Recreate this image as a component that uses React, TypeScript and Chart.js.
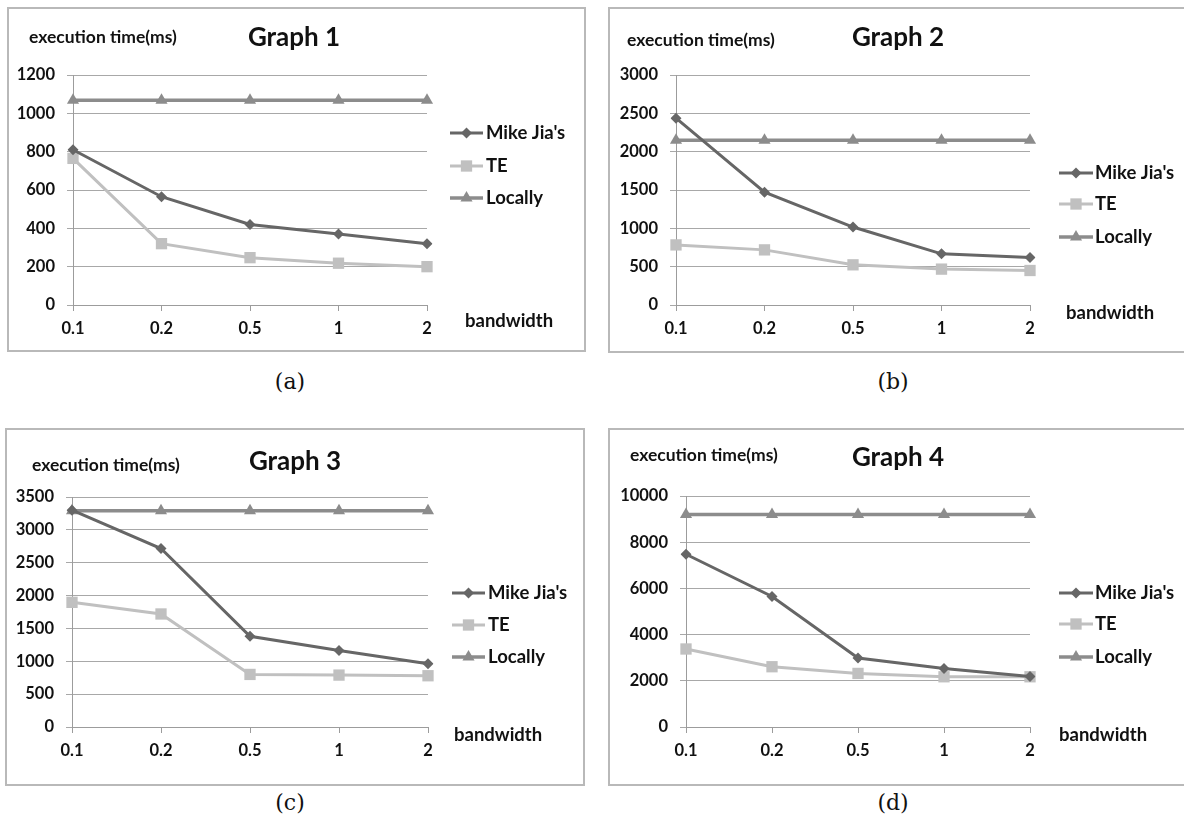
import React, { useEffect, useRef } from 'react';
import { Chart, registerables } from 'chart.js';

Chart.register(...registerables);

// ---------- data ----------
const bandwidthLabels = ['0.1', '0.2', '0.5', '1', '2'];
const seriesNames = ["Mike Jia's", 'TE', 'Locally'];
const yAxisTitle = 'execution time(ms)';
const xAxisTitle = 'bandwidth';

const graph1Mike = [810, 565, 420, 370, 320];
const graph1TE = [765, 320, 247, 218, 200];
const graph1Locally = [1068, 1068, 1068, 1068, 1068];
const graph1YMax = 1200;
const graph1YStep = 200;

const graph2Mike = [2437, 1472, 1017, 667, 619];
const graph2TE = [784, 719, 524, 468, 450];
const graph2Locally = [2150, 2150, 2150, 2150, 2150];
const graph2YMax = 3000;
const graph2YStep = 500;

const graph3Mike = [3300, 2716, 1381, 1163, 961];
const graph3TE = [1897, 1720, 800, 790, 780];
const graph3Locally = [3290, 3290, 3290, 3290, 3290];
const graph3YMax = 3500;
const graph3YStep = 500;

const graph4Mike = [7478, 5652, 2986, 2536, 2188];
const graph4TE = [3377, 2609, 2319, 2174, 2174];
const graph4Locally = [9203, 9203, 9203, 9203, 9203];
const graph4YMax = 10000;
const graph4YStep = 2000;

// ---------- styles ----------
const MIKE_COLOR = '#666666';
const TE_COLOR = '#c0c0c0';
const LOCAL_COLOR = '#8c8c8c';
const FONT = 'Lato, "Open Sans", sans-serif';
const TEXT_COLOR = '#111111';

type PanelCfg = {
  title: string;
  caption: string;
  mike: number[];
  te: number[];
  local: number[];
  yMax: number;
  yStep: number;
  box: { left: number; top: number; width: number; height: number };
  area: { left: number; right: number; top: number; bottom: number };
  titlePos: [number, number];
  yTitlePos: [number, number];
  xTitlePos: [number, number];
  legend: { x0: number; x1: number; text: number; ys: number[] };
  captionPos: [number, number];
};

const panels: PanelCfg[] = [
  {
    title: 'Graph 1', caption: '(a)',
    mike: graph1Mike, te: graph1TE, local: graph1Locally, yMax: graph1YMax, yStep: graph1YStep,
    box: { left: 7, top: 7, width: 579, height: 345 },
    area: { left: 73, right: 427, top: 75, bottom: 305 },
    titlePos: [294, 38], yTitlePos: [29, 37], xTitlePos: [465, 321],
    legend: { x0: 450, x1: 483, text: 486, ys: [133, 166, 198] },
    captionPos: [290, 382],
  },
  {
    title: 'Graph 2', caption: '(b)',
    mike: graph2Mike, te: graph2TE, local: graph2Locally, yMax: graph2YMax, yStep: graph2YStep,
    box: { left: 608, top: 7, width: 579, height: 346 },
    area: { left: 676, right: 1030, top: 75, bottom: 305 },
    titlePos: [898, 38], yTitlePos: [627, 40], xTitlePos: [1066, 313],
    legend: { x0: 1059, x1: 1093, text: 1095, ys: [173, 204, 237] },
    captionPos: [893, 382],
  },
  {
    title: 'Graph 3', caption: '(c)',
    mike: graph3Mike, te: graph3TE, local: graph3Locally, yMax: graph3YMax, yStep: graph3YStep,
    box: { left: 5, top: 428, width: 580, height: 358 },
    area: { left: 72, right: 428, top: 497, bottom: 727 },
    titlePos: [295, 462], yTitlePos: [32, 465], xTitlePos: [454, 735],
    legend: { x0: 452, x1: 485, text: 488, ys: [593, 625, 657] },
    captionPos: [290, 803],
  },
  {
    title: 'Graph 4', caption: '(d)',
    mike: graph4Mike, te: graph4TE, local: graph4Locally, yMax: graph4YMax, yStep: graph4YStep,
    box: { left: 608, top: 428, width: 579, height: 358 },
    area: { left: 686, right: 1030, top: 496, bottom: 727 },
    titlePos: [898, 458], yTitlePos: [630, 455], xTitlePos: [1059, 735],
    legend: { x0: 1059, x1: 1093, text: 1095, ys: [593, 624, 657] },
    captionPos: [893, 803],
  },
];

const LEFT_PAD = 2;
const X_AXIS_H = 40;

function drawMarker(ctx: CanvasRenderingContext2D, style: string, x: number, y: number, r: number, color: string) {
  ctx.save();
  ctx.fillStyle = color;
  ctx.beginPath();
  if (style === 'rectRot') {
    ctx.moveTo(x, y - r); ctx.lineTo(x + r, y); ctx.lineTo(x, y + r); ctx.lineTo(x - r, y);
  } else if (style === 'rect') {
    const s = r * Math.SQRT1_2;
    ctx.rect(x - s, y - s, 2 * s, 2 * s);
  } else {
    const h = r * 1.5;
    const w = r * Math.sqrt(3) / 2;
    ctx.moveTo(x, y - r); ctx.lineTo(x + w, y - r + h); ctx.lineTo(x - w, y - r + h);
  }
  ctx.closePath();
  ctx.fill();
  ctx.restore();
}

function Panel({ cfg }: { cfg: PanelCfg }) {
  const ref = useRef<HTMLCanvasElement | null>(null);
  useEffect(() => {
    if (!ref.current) return;
    const { box, area } = cfg;
    const ox = box.left, oy = box.top;
    const yAxisW = area.left - ox - LEFT_PAD;
    const markerR = [5.5, 8, 7];
    const decor = {
      id: 'decor',
      afterDraw(chart: any) {
        const ctx: CanvasRenderingContext2D = chart.ctx;
        ctx.save();
        // frame
        ctx.strokeStyle = '#b9b9b9';
        ctx.lineWidth = 2;
        ctx.strokeRect(1, 1, box.width - 2, box.height - 2);
        ctx.fillStyle = TEXT_COLOR;
        ctx.textBaseline = 'middle';
        // title
        ctx.font = `bold 26px ${FONT}`;
        ctx.textAlign = 'center';
        ctx.fillText(cfg.title, cfg.titlePos[0] - ox, cfg.titlePos[1] - oy);
        // axis titles
        ctx.textAlign = 'left';
        ctx.font = `bold 17.5px ${FONT}`;
        ctx.fillText(yAxisTitle, cfg.yTitlePos[0] - ox, cfg.yTitlePos[1] - oy);
        ctx.font = `bold 18.5px ${FONT}`;
        ctx.fillText(xAxisTitle, cfg.xTitlePos[0] - ox, cfg.xTitlePos[1] - oy);
        // legend
        chart.data.datasets.forEach((ds: any, i: number) => {
          const y = cfg.legend.ys[i] - oy;
          ctx.strokeStyle = ds.borderColor;
          ctx.lineWidth = ds.borderWidth;
          ctx.beginPath();
          ctx.moveTo(cfg.legend.x0 - ox, y);
          ctx.lineTo(cfg.legend.x1 - ox, y);
          ctx.stroke();
          drawMarker(ctx, ds.pointStyle, (cfg.legend.x0 + cfg.legend.x1) / 2 - ox, y, markerR[i], ds.borderColor);
          ctx.fillStyle = TEXT_COLOR;
          ctx.font = `bold 18.5px ${FONT}`;
          ctx.fillText(ds.label, cfg.legend.text - ox, y);
        });
        ctx.restore();
      },
    };
    const tickFont = { family: FONT, weight: 'bold' as const, size: 16.5 };
    const chart = new Chart(ref.current, {
      type: 'line',
      data: {
        labels: bandwidthLabels,
        datasets: [
          {
            label: seriesNames[0], data: cfg.mike, borderColor: MIKE_COLOR, backgroundColor: MIKE_COLOR,
            borderWidth: 3, pointStyle: 'rectRot', pointRadius: markerR[0], pointBorderWidth: 0, tension: 0,
          },
          {
            label: seriesNames[1], data: cfg.te, borderColor: TE_COLOR, backgroundColor: TE_COLOR,
            borderWidth: 3, pointStyle: 'rect', pointRadius: markerR[1], pointBorderWidth: 0, tension: 0,
          },
          {
            label: seriesNames[2], data: cfg.local, borderColor: LOCAL_COLOR, backgroundColor: LOCAL_COLOR,
            borderWidth: 3.5, pointStyle: 'triangle', pointRadius: markerR[2], pointBorderWidth: 0, tension: 0,
          },
        ],
      },
      options: {
        animation: false,
        responsive: false,
        devicePixelRatio: 1,
        layout: {
          padding: {
            left: LEFT_PAD,
            right: ox + box.width - area.right,
            top: area.top - oy,
            bottom: oy + box.height - area.bottom - X_AXIS_H,
          },
        },
        plugins: { legend: { display: false }, title: { display: false }, tooltip: { enabled: false } },
        scales: {
          x: {
            type: 'category',
            offset: false,
            grid: { drawOnChartArea: false, drawTicks: true, tickLength: 6, color: '#9c9c9c' },
            border: { color: '#9c9c9c', width: 1 },
            ticks: { color: TEXT_COLOR, font: tickFont, padding: 8, maxRotation: 0, autoSkip: false },
            afterFit: (s: any) => { s.height = X_AXIS_H; },
          },
          y: {
            min: 0, max: cfg.yMax,
            grid: { color: '#a8a8a8', tickLength: 6, lineWidth: 1 },
            border: { color: '#9c9c9c', width: 1 },
            ticks: {
              stepSize: cfg.yStep, color: TEXT_COLOR, font: tickFont, padding: 12,
              callback: (v: any) => String(v),
            },
            afterFit: (s: any) => { s.width = yAxisW; },
          },
        },
      },
      plugins: [decor],
    } as any);
    return () => chart.destroy();
  }, [cfg]);
  return (
    <canvas
      ref={ref}
      width={cfg.box.width}
      height={cfg.box.height}
      style={{ position: 'absolute', left: cfg.box.left, top: cfg.box.top, width: cfg.box.width, height: cfg.box.height }}
    />
  );
}

export default function App() {
  return (
    <div style={{ position: 'fixed', left: 0, top: 0, width: 1184, height: 818, overflow: 'hidden', background: '#fff' }}>
      {panels.map((p) => (
        <React.Fragment key={p.title}>
          <Panel cfg={p} />
          <div
            style={{
              position: 'absolute', left: p.captionPos[0] - 40, top: p.captionPos[1] - 15, width: 80,
              textAlign: 'center', fontFamily: '"DejaVu Serif", "Liberation Serif", serif', fontSize: 22,
              lineHeight: '30px', color: '#111',
            }}
          >
            {p.caption}
          </div>
        </React.Fragment>
      ))}
    </div>
  );
}
